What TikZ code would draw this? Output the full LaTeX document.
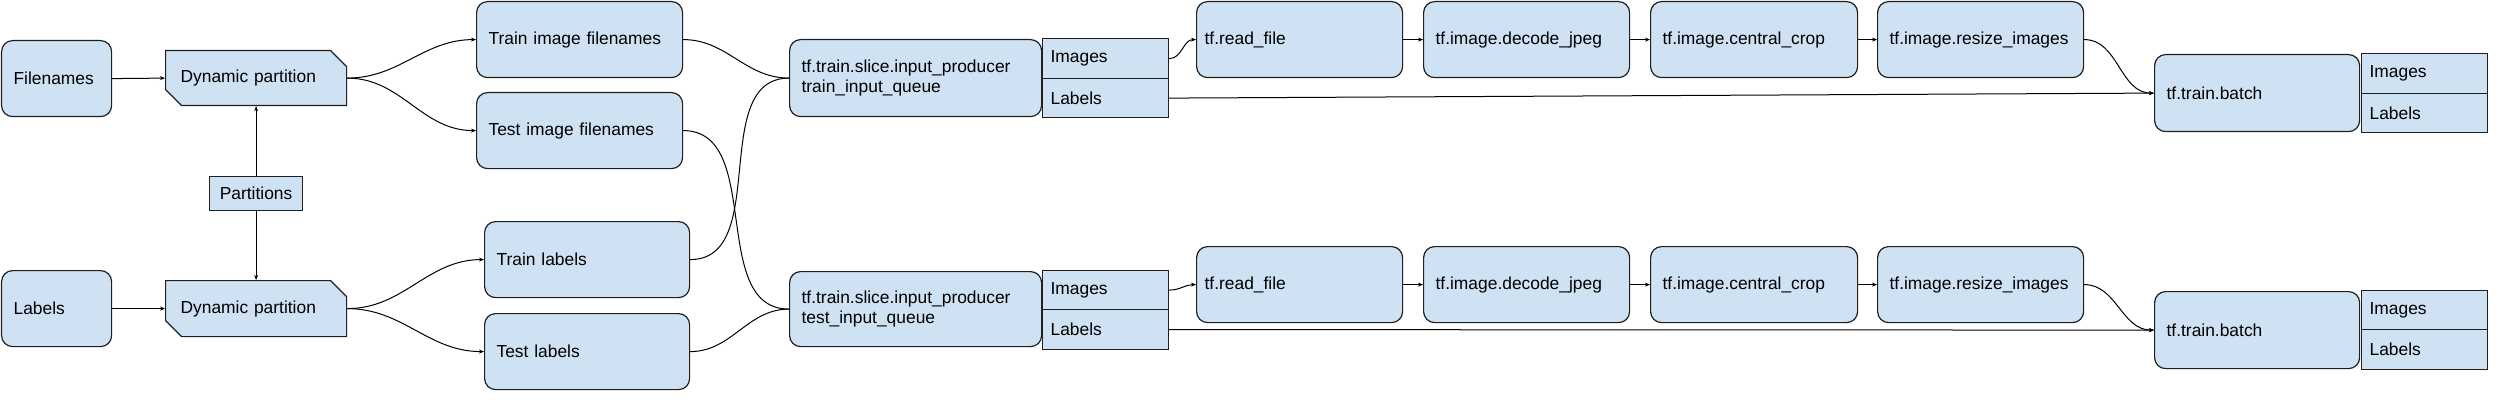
\documentclass[tikz,border=0pt]{standalone}
\usepackage{fontspec}
\setmainfont{Liberation Sans}
\usetikzlibrary{shapes.misc,arrows.meta}
\definecolor{boxblue}{HTML}{CFE2F3}
\definecolor{edge}{HTML}{1F1F1F}
\begin{document}
\begin{tikzpicture}[x=1pt,y=-1pt,font=\fontsize{17.4}{20.5}\selectfont,
  blk/.style={draw=edge,fill=boxblue,line width=1.2pt,rounded corners=11pt,inner xsep=12pt,inner ysep=0pt,align=left,anchor=north west,minimum height=76pt},
  cell/.style={draw=edge,fill=boxblue,line width=1.2pt,inner xsep=8pt,inner ysep=0pt,align=left,anchor=north west,text width=110pt,minimum height=#1},
  cut/.style={draw=edge,fill=boxblue,line width=1.2pt,chamfered rectangle,chamfered rectangle corners={north east,south west},chamfered rectangle xsep=8pt,chamfered rectangle ysep=8pt,inner xsep=7pt,inner ysep=0pt,text width=151pt,align=left,minimum width=181pt,minimum height=55pt,anchor=north west},
  arr/.style={line width=1pt,-{Stealth[length=5pt,width=4pt]}},
  wire/.style={line width=1pt}]
\useasboundingbox (0,0) rectangle (2500,409);
\node[blk,text width=86pt] (fn) at (1,40) {Filenames};
\node[blk,text width=86pt] (lb) at (1,270) {Labels};
\node[cut] (dp1) at (165,50) {Dynamic partition};
\node[cut,minimum height=56pt] (dp2) at (165,280) {Dynamic partition};
\node[draw=edge,fill=boxblue,line width=1.2pt,inner sep=0pt,minimum width=93pt,minimum height=34pt,anchor=north west] (part) at (209,176) {Partitions};
\node[blk,text width=182pt] (trimg) at (476,1) {Train image filenames};
\node[blk,text width=182pt] (teimg) at (476,92) {Test image filenames};
\node[blk,text width=181pt] (trlab) at (484,221) {Train labels};
\node[blk,text width=181pt] (telab) at (484,313) {Test labels};
\node[blk,text width=228pt,minimum height=77pt] (sl1) at (789,39) {tf.train.slice.input\_producer\\train\_input\_queue};
\node[cell=40pt] (im1) at (1042,38) {Images};
\node[cell=39pt] (la1) at (1042,78) {Labels};
\node[blk,text width=228pt,minimum height=75pt] (sl2) at (789,271) {tf.train.slice.input\_producer\\test\_input\_queue};
\node[cell=39pt] (im2) at (1042,270) {Images};
\node[cell=40pt] (la2) at (1042,309) {Labels};
\node[blk,inner xsep=8pt,text width=190pt] (rf1) at (1196,1) {tf.read\_file};
\node[blk,text width=182pt] (dj1) at (1423,1) {tf.image.decode\_jpeg};
\node[blk,text width=183pt] (cc1) at (1650,1) {tf.image.central\_crop};
\node[blk,text width=182pt] (rs1) at (1877,1) {tf.image.resize\_images};
\node[blk,inner xsep=8pt,text width=190pt] (rf2) at (1196,246) {tf.read\_file};
\node[blk,text width=182pt] (dj2) at (1423,246) {tf.image.decode\_jpeg};
\node[blk,text width=183pt] (cc2) at (1650,246) {tf.image.central\_crop};
\node[blk,text width=182pt] (rs2) at (1877,246) {tf.image.resize\_images};
\node[blk,text width=181pt,minimum height=77pt] (bt1) at (2154,54) {tf.train.batch};
\node[cell=40pt] (bim1) at (2361,53) {Images};
\node[cell=39pt] (bla1) at (2361,93) {Labels};
\node[blk,text width=181pt,minimum height=77pt] (bt2) at (2154,291) {tf.train.batch};
\node[cell=39pt] (bim2) at (2361,290) {Images};
\node[cell=40pt] (bla2) at (2361,329) {Labels};
\draw [arr] (fn.east)-- (dp1.west);
\draw [arr] (lb.east)-- (dp2.west);
\draw [arr] (part.north)-- (dp1.south);
\draw [arr] (part.south)-- (dp2.north);
\draw [arr] (dp1.east) to[out=0,in=180] (trimg.west);
\draw [arr] (dp1.east) to[out=0,in=180] (teimg.west);
\draw [arr] (dp2.east) to[out=0,in=180] (trlab.west);
\draw [arr] (dp2.east) to[out=0,in=180] (telab.west);
\draw [wire] (trimg.east) to[out=0,in=180] (sl1.west);
\draw [wire] (trlab.east) to[out=0,in=180] (sl1.west);
\draw [wire] (teimg.east) to[out=0,in=180] (sl2.west);
\draw [wire] (telab.east) to[out=0,in=180] (sl2.west);
\draw [arr] (im1.east) to[out=0,in=180] (rf1.west);
\draw [arr] (im2.east) to[out=0,in=180] (rf2.west);
\draw [arr] (rf1)-- (dj1);
\draw [arr] (dj1)-- (cc1);
\draw [arr] (cc1)-- (rs1);
\draw [arr] (rf2)-- (dj2);
\draw [arr] (dj2)-- (cc2);
\draw [arr] (cc2)-- (rs2);
\draw [arr] (rs1.east) to[out=0,in=180] (bt1.west);
\draw [arr] (rs2.east) to[out=0,in=180] (bt2.west);
\draw [arr] (la1.east)-- (bt1.west);
\draw [arr] (la2.east)-- (bt2.west);
\end{tikzpicture}
\end{document}
